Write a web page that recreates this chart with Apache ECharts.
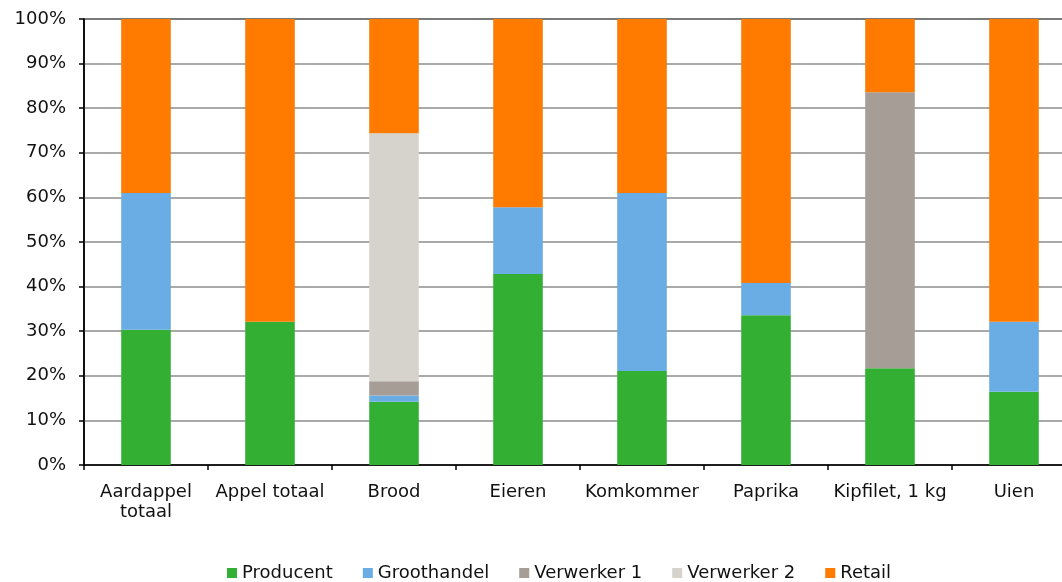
<!DOCTYPE html>
<html>
<head>
<meta charset="utf-8">
<script src="https://cdn.jsdelivr.net/npm/echarts@6/dist/echarts.min.js"></script>
<style>
  html, body { margin: 0; padding: 0; background: #fff; overflow: hidden; }
  /* wider than the window: the plot runs past the right edge, as in the source */
  #main { width: 1076px; height: 582px; }
</style>
</head>
<body>
<div id="main"></div>
<script>
const categories = ['Aardappel\ntotaal', 'Appel totaal', 'Brood', 'Eieren', 'Komkommer', 'Paprika', 'Kipfilet, 1 kg', 'Uien'];
const producent = [30.3, 32.1, 14.2, 42.8, 21.1, 33.6, 21.7, 16.4];
const groothandel = [30.7, 0, 1.4, 15.0, 39.9, 7.2, 0, 15.7];
const verwerker1 = [0, 0, 3.2, 0, 0, 0, 61.9, 0];
const verwerker2 = [0, 0, 55.6, 0, 0, 0, 0, 0];
const retail = [39.0, 67.9, 25.6, 42.2, 39.0, 59.2, 16.4, 67.9];

const font = '"DejaVu Sans", sans-serif';

const makeSeries = (name, data, color) => ({
  name,
  type: 'bar',
  stack: 'total',
  barWidth: '40%',
  itemStyle: { color },
  data,
});

const chart = echarts.init(document.getElementById('main'));
chart.setOption({
  animation: false,
  textStyle: { fontFamily: font },
  grid: {
    left: 84, right: 0, top: 19, bottom: 117, containLabel: false,
    show: true, borderColor: '#000', borderWidth: 1.5,
  },
  legend: {
    top: 564,
    left: 227,
    padding: 0,
    itemWidth: 10,
    itemHeight: 10,
    itemGap: 30,
    icon: 'rect',
    textStyle: { fontFamily: font, fontSize: 18, color: '#111', lineHeight: 18 },
    data: ['Producent', 'Groothandel', 'Verwerker 1', 'Verwerker 2', 'Retail'],
  },
  xAxis: {
    type: 'category',
    data: categories,
    axisLine: { lineStyle: { color: '#000', width: 1.5 } },
    axisTick: { show: true, length: 5, lineStyle: { color: '#000', width: 1.5 } },
    axisLabel: { fontFamily: font, fontSize: 18, color: '#111', margin: 17, lineHeight: 20, interval: 0 },
  },
  yAxis: {
    type: 'value',
    min: 0,
    max: 100,
    interval: 10,
    axisLine: { show: true, lineStyle: { color: '#000', width: 1.5 } },
    axisTick: { show: true, length: 5, lineStyle: { color: '#000', width: 1.5 } },
    axisLabel: { fontFamily: font, fontSize: 18, color: '#111', margin: 18, formatter: '{value}%' },
    splitLine: { lineStyle: { color: '#8c8c8c', width: 1.5 } },
  },
  series: [
    makeSeries('Producent', producent, '#33b033'),
    makeSeries('Groothandel', groothandel, '#6aade4'),
    makeSeries('Verwerker 1', verwerker1, '#a59d96'),
    makeSeries('Verwerker 2', verwerker2, '#d6d3cc'),
    makeSeries('Retail', retail, '#ff7b00'),
  ],
});
</script>
</body>
</html>
